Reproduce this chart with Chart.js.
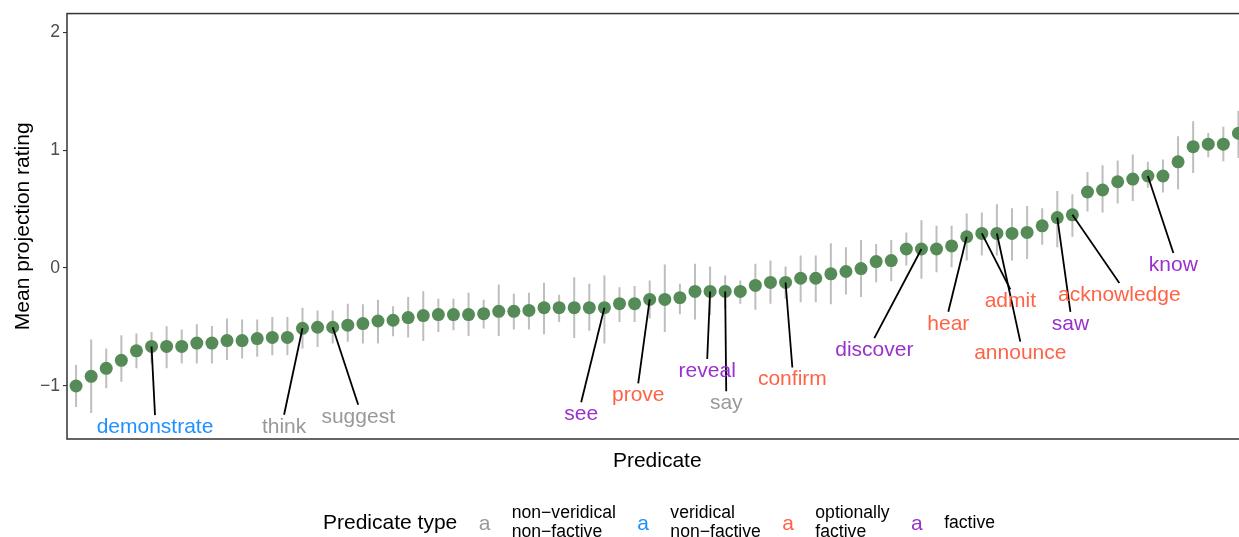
<!DOCTYPE html>
<html>
<head>
<meta charset="utf-8">
<script src="https://cdn.jsdelivr.net/npm/chart.js@4/dist/chart.umd.min.js"></script>
<style>
  html, body { margin:0; padding:0; background:#fff; }
  #wrap { position:relative; width:1239px; height:537px; overflow:hidden; background:#fff; }
  #c { position:absolute; left:0; top:0; }
  #legend { position:absolute; left:323px; top:522px; transform:translateY(-50%);
            display:flex; align-items:center; gap:21.4px; font-family:"Liberation Sans", Arial, sans-serif; white-space:nowrap; }
  #legend .title { font-size:21px; color:#000; }
  #legend .key { font-size:21px; line-height:1; }
  #legend .lab { font-size:17.6px; line-height:19px; color:#000; }
</style>
</head>
<body>
<div id="wrap">
  <canvas id="c" width="1254" height="537"></canvas>
  <div id="legend"></div>
</div>
<script>
// ---------------- data ----------------
const yTicks = [-1, 0, 1, 2];

const means = [
  -1.003,-0.921,-0.853,-0.785,-0.704,-0.667,-0.667,-0.667,-0.639,-0.639,
  -0.617,-0.617,-0.600,-0.591,-0.591,-0.513,-0.504,-0.504,-0.487,-0.473,
  -0.451,-0.445,-0.422,-0.405,-0.397,-0.397,-0.397,-0.389,-0.369,-0.369,
  -0.361,-0.338,-0.338,-0.338,-0.338,-0.338,-0.304,-0.304,-0.268,-0.268,
  -0.253,-0.200,-0.200,-0.200,-0.200,-0.149,-0.124,-0.124,-0.088,-0.088,
  -0.051,-0.031,-0.006, 0.053, 0.062, 0.160, 0.160, 0.160, 0.186, 0.264,
   0.292, 0.292, 0.292, 0.301, 0.357, 0.427, 0.450, 0.644, 0.661, 0.731,
   0.754, 0.780, 0.780, 0.900, 1.029, 1.050, 1.050, 1.143
];
const upper = [
  -0.825,-0.608,-0.684,-0.572,-0.557,-0.544,-0.496,-0.524,-0.479,-0.493,
  -0.431,-0.439,-0.439,-0.417,-0.417,-0.338,-0.361,-0.361,-0.304,-0.310,
  -0.270,-0.327,-0.248,-0.198,-0.262,-0.262,-0.211,-0.270,-0.141,-0.220,
  -0.211,-0.127,-0.228,-0.079,-0.135,-0.065,-0.164,-0.155,-0.107, 0.028,
  -0.135, 0.034, 0.011,-0.065,-0.107, 0.034, 0.062, 0.011, 0.104, 0.104,
   0.208, 0.174, 0.236, 0.203, 0.236, 0.301, 0.405, 0.357, 0.357, 0.461,
   0.470, 0.541, 0.507, 0.526, 0.507, 0.653, 0.625, 0.813, 0.872, 0.912,
   0.963, 0.900, 0.921, 1.117, 1.244, 1.145, 1.198, 1.334
];
const lower = [
  -1.182,-1.233,-1.022,-0.966,-0.853,-0.811,-0.853,-0.811,-0.811,-0.811,
  -0.783,-0.769,-0.755,-0.741,-0.741,-0.684,-0.671,-0.642,-0.628,-0.642,
  -0.642,-0.580,-0.591,-0.620,-0.544,-0.530,-0.578,-0.515,-0.578,-0.524,
  -0.524,-0.563,-0.459,-0.595,-0.535,-0.642,-0.459,-0.459,-0.431,-0.544,
  -0.394,-0.439,-0.403,-0.346,-0.304,-0.355,-0.304,-0.262,-0.291,-0.291,
  -0.310,-0.226,-0.248,-0.122,-0.113, 0.019,-0.093,-0.037, 0.005, 0.062,
   0.104, 0.104, 0.062, 0.076, 0.197, 0.174, 0.264, 0.478, 0.470, 0.546,
   0.568, 0.681, 0.639, 0.667, 0.805, 0.940, 0.906, 0.932
];

// labelled predicates: name, rank index, predicate type
const labelNames = ['demonstrate','think','suggest','see','prove','reveal','say','confirm',
                    'discover','hear','admit','announce','saw','acknowledge','know'];
const labelIndex = [5,15,17,35,38,42,43,47,56,59,60,61,65,66,71];
const labelType  = [1,0,0,3,2,3,0,2,3,2,2,2,3,2,3];
// repelled label anchor (in data units: rank, rating)
const labelAtX = [5.23,13.78,18.69,33.46,37.24,41.81,43.07,47.45,52.88,57.78,61.89,62.55,65.87,69.11,72.69];
const labelAtY = [-1.352,-1.349,-1.264,-1.243,-1.083,-0.876,-1.150,-0.948,-0.698,-0.475,-0.285,-0.728,-0.475,-0.230,0.024];

const typeNames  = [['non\u2212veridical','non\u2212factive'],['veridical','non\u2212factive'],['optionally','factive'],['factive']];
const typeColors = ['#999999','#1E90FF','#FF6347','#9932CC'];

// ---------------- chart ----------------
const FONT = '"Liberation Sans", Arial, Helvetica, sans-serif';
Chart.defaults.font.family = FONT;

const points = means.map((m, i) => ({x: i, y: m}));

const errorBars = {
  id: 'errorBars',
  beforeDatasetsDraw(chart) {
    const {ctx, scales: {x, y}, chartArea} = chart;
    ctx.save();
    ctx.beginPath();
    ctx.rect(chartArea.left, chartArea.top, chartArea.right - chartArea.left, chartArea.bottom - chartArea.top);
    ctx.clip();
    ctx.strokeStyle = '#bebebe';
    ctx.lineWidth = 2;
    for (let i = 0; i < means.length; i++) {
      const px = x.getPixelForValue(i);
      ctx.beginPath();
      ctx.moveTo(px, y.getPixelForValue(lower[i]));
      ctx.lineTo(px, y.getPixelForValue(upper[i]));
      ctx.stroke();
    }
    ctx.restore();
  }
};

const labelsPlugin = {
  id: 'repelLabels',
  afterDatasetsDraw(chart) {
    const {ctx, scales: {x, y}} = chart;
    ctx.save();
    ctx.strokeStyle = '#000';
    ctx.lineWidth = 1.8;
    for (let k = 0; k < labelNames.length; k++) {
      const i = labelIndex[k];
      const lx = x.getPixelForValue(labelAtX[k]);
      const ly = y.getPixelForValue(labelAtY[k]);
      ctx.beginPath();
      ctx.moveTo(x.getPixelForValue(i), y.getPixelForValue(means[i]));
      ctx.lineTo(lx, ly - 12);
      ctx.stroke();
    }
    ctx.font = '21px ' + FONT;
    ctx.textAlign = 'center';
    ctx.textBaseline = 'middle';
    for (let k = 0; k < labelNames.length; k++) {
      ctx.fillStyle = typeColors[labelType[k]];
      ctx.fillText(labelNames[k], x.getPixelForValue(labelAtX[k]), y.getPixelForValue(labelAtY[k]));
    }
    ctx.restore();
  }
};

const panelBorder = {
  id: 'panelBorder',
  afterDraw(chart) {
    const {ctx, chartArea: a} = chart;
    ctx.save();
    ctx.strokeStyle = '#333333';
    ctx.lineWidth = 1.5;
    ctx.strokeRect(a.left, a.top, a.right - a.left, a.bottom - a.top);
    ctx.restore();
  }
};

new Chart(document.getElementById('c'), {
  type: 'scatter',
  data: {
    datasets: [{
      data: points,
      backgroundColor: '#548b57',
      borderWidth: 0,
      pointRadius: 6.5,
      pointHoverRadius: 6.5
    }]
  },
  options: {
    responsive: false,
    animation: false,
    devicePixelRatio: 1,
    layout: { padding: { left: 0, right: 3, top: 12, bottom: 58 } },
    plugins: { legend: { display: false }, tooltip: { enabled: false } },
    scales: {
      x: {
        type: 'linear', min: -0.6, max: 77.6,
        afterFit: s => { s.height = 40; },
        grid: { display: false }, border: { display: false },
        ticks: { display: false },
        title: { display: true, text: 'Predicate', color: '#000', font: { size: 21 }, padding: { top: 0, bottom: 5 } }
      },
      y: {
        type: 'linear', min: -1.453, max: 2.159,
        afterBuildTicks: s => { s.ticks = yTicks.map(v => ({ value: v })); },
        afterFit: s => { s.width = 67; },
        grid: { display: true, drawOnChartArea: false, drawTicks: true, tickLength: 4, color: '#333333', lineWidth: 1.1 },
        border: { display: false },
        ticks: { color: '#4d4d4d', font: { size: 17.6 }, padding: 3,
                 callback: v => String(v).replace('-', '\u2212') },
        title: { display: true, text: 'Mean projection rating', color: '#000', font: { size: 21 }, padding: { top: 11, bottom: 0 } }
      }
    }
  },
  plugins: [errorBars, labelsPlugin, panelBorder]
});

// ---------------- legend (HTML text) ----------------
const lg = document.getElementById('legend');
const t = document.createElement('div');
t.className = 'title'; t.textContent = 'Predicate type';
lg.appendChild(t);
typeNames.forEach((lines, i) => {
  const k = document.createElement('div');
  k.className = 'key'; k.style.color = typeColors[i]; k.textContent = 'a';
  lg.appendChild(k);
  const l = document.createElement('div');
  l.className = 'lab';
  lines.forEach(s => { const d = document.createElement('div'); d.textContent = s; l.appendChild(d); });
  lg.appendChild(l);
});
</script>
</body>
</html>
